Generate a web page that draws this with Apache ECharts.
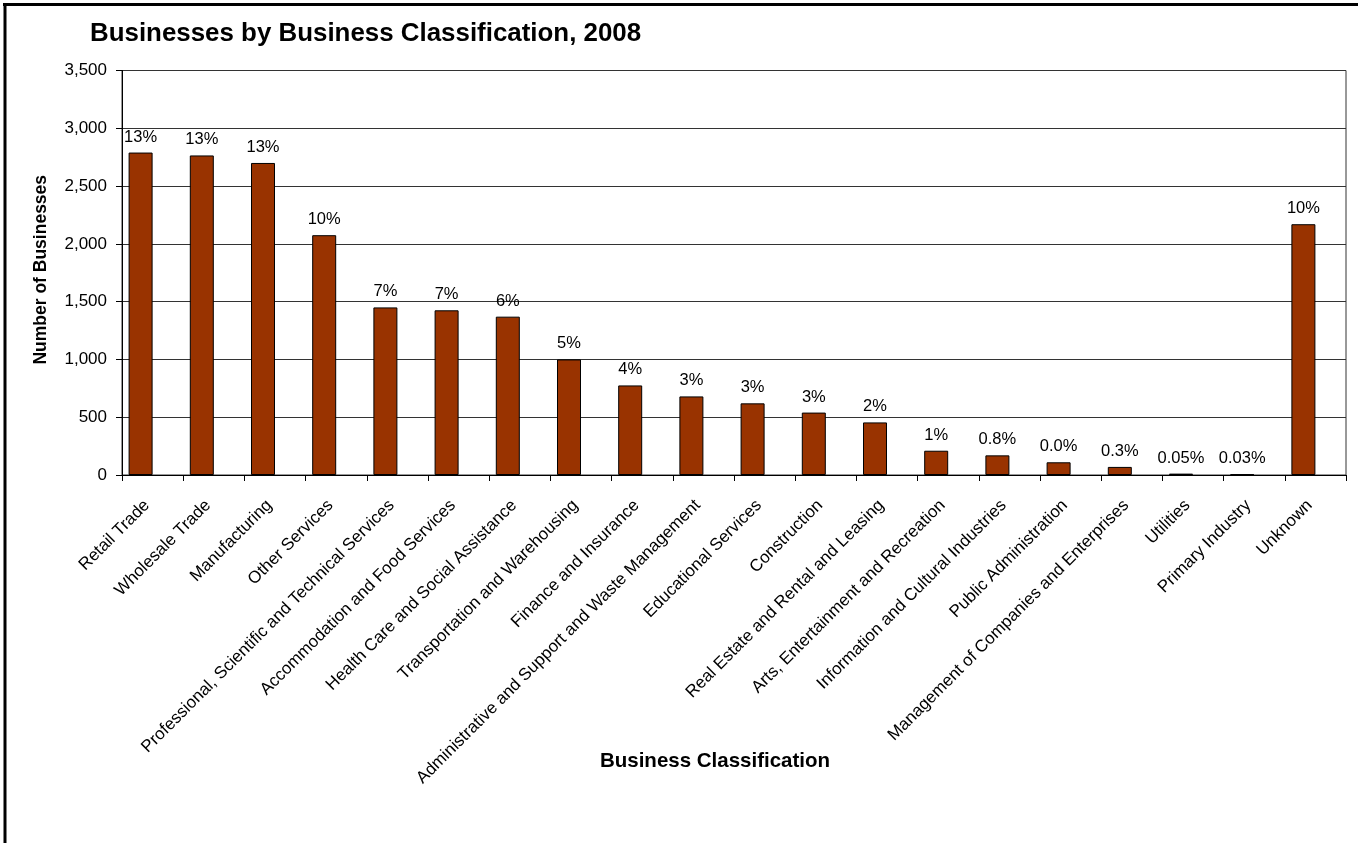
<!DOCTYPE html>
<html>
<head>
<meta charset="utf-8">
<script src="https://cdn.jsdelivr.net/npm/echarts@6/dist/echarts.min.js"></script>
<style>
html,body{margin:0;padding:0;background:#fff;}
#chart{width:1358px;height:843px;}
</style>
</head>
<body>
<div id="chart"></div>
<script>
const categories = [
  "Retail Trade", "Wholesale Trade", "Manufacturing", "Other Services",
  "Professional, Scientific and Technical Services", "Accommodation and Food Services",
  "Health Care and Social Assistance", "Transportation and Warehousing",
  "Finance and Insurance", "Administrative and Support and Waste Management",
  "Educational Services", "Construction", "Real Estate and Rental and Leasing",
  "Arts, Entertainment and Recreation", "Information and Cultural Industries",
  "Public Administration", "Management of Companies and Enterprises",
  "Utilities", "Primary Industry", "Unknown"
];
const businesses = [2790, 2765, 2700, 2075, 1450, 1425, 1370, 1000, 775, 680,
                    620, 540, 455, 210, 170, 110, 70, 12, 6, 2170];
const shareLabels = ["13%", "13%", "13%", "10%", "7%", "7%", "6%", "5%", "4%", "3%",
                     "3%", "3%", "2%", "1%", "0.8%", "0.0%", "0.3%", "0.05%", "0.03%", "10%"];
const yTicks = [0, 500, 1000, 1500, 2000, 2500, 3000, 3500];

const FONT = "'Liberation Sans', Arial, sans-serif";
const chart = echarts.init(document.getElementById('chart'), null, {renderer: 'canvas'});

const option = {
  backgroundColor: '#fff',
  animation: false,
  title: {
    text: 'Businesses by Business Classification, 2008',
    left: 85, top: 16,
    textStyle: {fontFamily: FONT, fontSize: 25.9, fontWeight: 'bold', color: '#000'}
  },
  graphic: [
    {type: 'line', shape: {x1: 3, y1: 4.5, x2: 1358, y2: 4.5}, style: {stroke: '#000', lineWidth: 3}},
    {type: 'line', shape: {x1: 5, y1: 3, x2: 5, y2: 843}, style: {stroke: '#000', lineWidth: 3}}
  ],
  grid: {
    left: 122, right: 12, top: 70.5, bottom: 368,
    show: true, borderColor: '#333', borderWidth: 1, backgroundColor: '#fff'
  },
  xAxis: {
    type: 'category',
    data: categories,
    name: 'Business Classification',
    nameLocation: 'middle',
    nameGap: 276,
    nameMoveOverlap: false,
    nameTextStyle: {fontFamily: FONT, fontSize: 20.5, fontWeight: 'bold', color: '#000', padding: [0, 38, 0, 0]},
    axisLine: {lineStyle: {color: '#000', width: 1}},
    axisTick: {show: true, length: 6, inside: false, lineStyle: {color: '#000'}},
    axisLabel: {
      interval: 0, rotate: 45, margin: 22,
      fontFamily: FONT, fontSize: 17, color: '#000',
      padding: [0, 8, 0, 0]
    },
    splitLine: {show: false}
  },
  yAxis: {
    type: 'value',
    min: yTicks[0], max: yTicks[yTicks.length - 1], interval: 500,
    name: 'Number of Businesses',
    nameLocation: 'middle',
    nameGap: 72,
    nameMoveOverlap: false,
    nameTextStyle: {fontFamily: FONT, fontSize: 17.5, fontWeight: 'bold', color: '#000', padding: [0, 0, 0, 6]},
    axisLine: {show: true, lineStyle: {color: '#000', width: 1}},
    axisTick: {show: true, length: 6, lineStyle: {color: '#000'}},
    axisLabel: {
      margin: 15, fontFamily: FONT, fontSize: 17, color: '#000',
      formatter: v => v.toLocaleString('en-US')
    },
    splitLine: {show: true, lineStyle: {color: '#333', width: 1}}
  },
  series: [
    {
      type: 'bar',
      data: businesses,
      barWidth: 24,
      barGap: '0%',
      itemStyle: {color: '#993300', borderColor: '#000', borderWidth: 1},
      label: {
        show: true, position: 'top', distance: 7,
        fontFamily: FONT, fontSize: 16.5, color: '#000',
        formatter: p => shareLabels[p.dataIndex]
      }
    },
    {
      type: 'bar',
      data: businesses.map(() => '-'),
      barWidth: 24,
      silent: true
    }
  ]
};
chart.setOption(option);
</script>
</body>
</html>
